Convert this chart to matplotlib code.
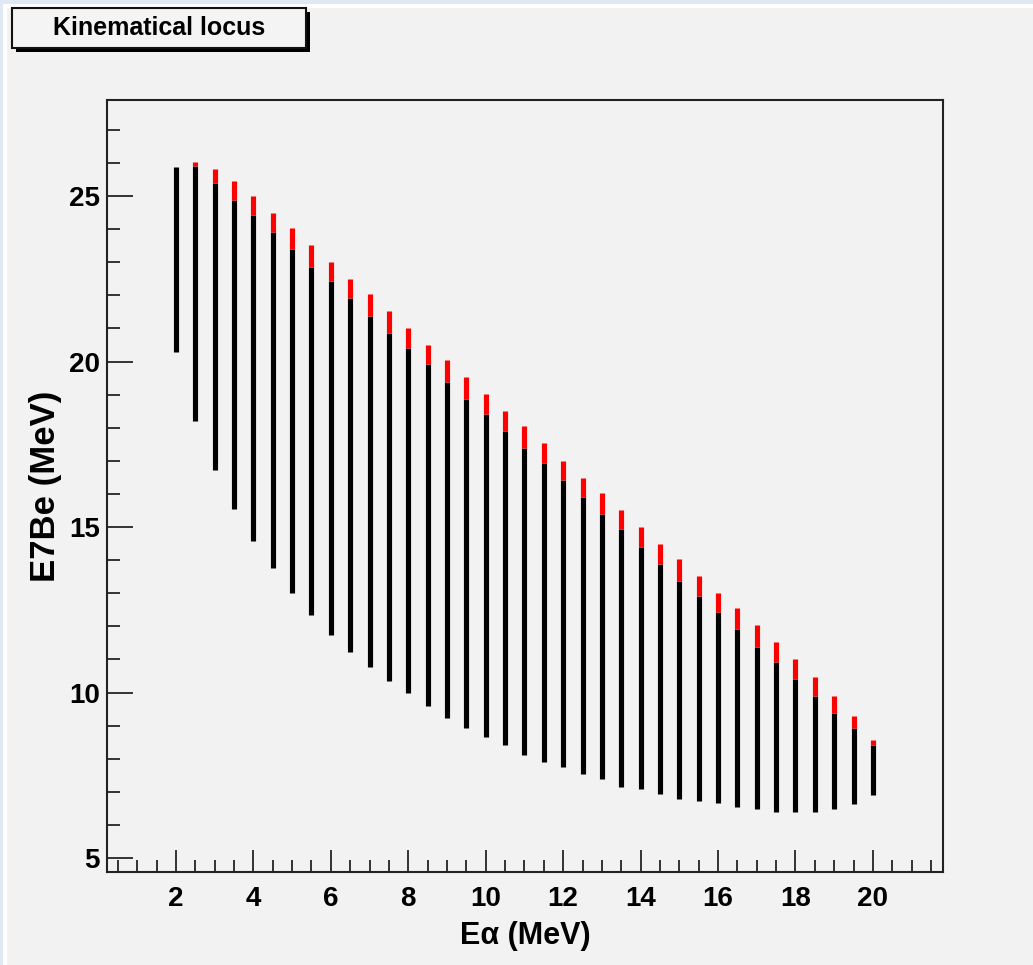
import matplotlib
matplotlib.use("Agg")
import matplotlib.pyplot as plt
from matplotlib.patches import Rectangle
from matplotlib.ticker import MultipleLocator

# Beam energy (MeV) for each simulated run
e_alpha = [2.0, 2.5, 3.0, 3.5, 4.0, 4.5, 5.0, 5.5, 6.0, 6.5, 7.0, 7.5, 8.0,
           8.5, 9.0, 9.5, 10.0, 10.5, 11.0, 11.5, 12.0, 12.5, 13.0, 13.5,
           14.0, 14.5, 15.0, 15.5, 16.0, 16.5, 17.0, 17.5, 18.0, 18.5, 19.0,
           19.5, 20.0]

# Upper end of the 7Be energy range at each beam energy
e7be_max = [25.88, 26.03, 25.83, 25.46, 25.01, 24.49, 24.03, 23.52, 23.00,
            22.50, 22.04, 21.53, 21.02, 20.50, 20.05, 19.53, 19.01, 18.50,
            18.04, 17.53, 17.00, 16.49, 16.04, 15.51, 15.00, 14.49, 14.04,
            13.52, 13.00, 12.56, 12.04, 11.52, 11.00, 10.48, 9.90, 9.30, 8.57]

# Start of the highlighted (forward-angle) part of each range
e7be_fwd = [25.88, 25.90, 25.39, 24.88, 24.43, 23.90, 23.40, 22.86, 22.43,
            21.92, 21.37, 20.86, 20.42, 19.92, 19.39, 18.87, 18.42, 17.90,
            17.40, 16.94, 16.42, 15.90, 15.38, 14.93, 14.40, 13.88, 13.38,
            12.92, 12.42, 11.91, 11.38, 10.93, 10.41, 9.89, 9.37, 8.92, 8.41]

# Lower end of the 7Be energy range
e7be_min = [20.29, 18.21, 16.72, 15.54, 14.57, 13.75, 13.02, 12.34, 11.75,
            11.23, 10.78, 10.35, 9.98, 9.60, 9.24, 8.94, 8.65, 8.41, 8.11,
            7.89, 7.75, 7.53, 7.38, 7.15, 7.08, 6.93, 6.78, 6.71, 6.65, 6.55,
            6.48, 6.40, 6.40, 6.40, 6.48, 6.63, 6.92]

title = "Kinematical locus"
xlabel = "E\u03b1 (MeV)"
ylabel = "E7Be (MeV)"

plt.rcParams["font.family"] = ["Liberation Sans", "DejaVu Sans"]
plt.rcParams["font.weight"] = "bold"

W, H = 1033, 965
bg = "#f2f2f2"
fig = plt.figure(figsize=(W / 100, H / 100), dpi=100, facecolor=bg)

# canvas frame strips
fig.patches.append(Rectangle((0, 1 - 8 / H), 1, 8 / H, transform=fig.transFigure,
                             facecolor="white", edgecolor="none", zorder=-2))
fig.patches.append(Rectangle((0, 0), 7 / W, 1, transform=fig.transFigure,
                             facecolor="white", edgecolor="none", zorder=-2))
fig.patches.append(Rectangle((0, 1 - 4 / H), 1, 4 / H, transform=fig.transFigure,
                             facecolor="#dfe8f4", edgecolor="none", zorder=-1))
fig.patches.append(Rectangle((0, 0), 3 / W, 1, transform=fig.transFigure,
                             facecolor="#dfe8f4", edgecolor="none", zorder=-1))

x0, x1, y0, y1 = 107, 943, 100, 872
ax = fig.add_axes([x0 / W, 1 - y1 / H, (x1 - x0) / W, (y1 - y0) / H])
ax.set_facecolor(bg)

lw_bar = 3.7
ax.vlines(e_alpha, e7be_min, e7be_fwd, colors="black", linewidth=lw_bar,
          capstyle="butt", zorder=3)
ax.vlines(e_alpha, e7be_fwd, e7be_max, colors="#ff0000", linewidth=lw_bar,
          capstyle="butt", zorder=3)

ax.set_xlim(0.22, 21.81)
ax.set_ylim(4.58, 27.9)

ax.xaxis.set_major_locator(MultipleLocator(2))
ax.xaxis.set_minor_locator(MultipleLocator(0.5))
ax.yaxis.set_major_locator(MultipleLocator(5))
ax.yaxis.set_minor_locator(MultipleLocator(1))

ax.tick_params(axis="x", which="major", direction="in", length=16, width=1.1,
               pad=10, labelsize=20, top=False)
ax.tick_params(axis="x", which="minor", direction="in", length=8.6, width=1.1,
               top=False)
ax.tick_params(axis="y", which="major", direction="in", length=18.5, width=1.1,
               pad=5, labelsize=20, right=False)
ax.tick_params(axis="y", which="minor", direction="in", length=9.4, width=1.1,
               right=False)
for lab in ax.get_xticklabels() + ax.get_yticklabels():
    lab.set_fontweight("bold")

for s in ax.spines.values():
    s.set_linewidth(1.5)
    s.set_color("#222222")

ax.set_xlabel(xlabel, fontsize=22, fontweight="bold")
ax.xaxis.set_label_coords(0.5, -0.064)
ax.set_ylabel(ylabel, fontsize=25, fontweight="bold")
ax.yaxis.set_label_coords(-0.054, 0.5)

# title box with drop shadow
bx0, by0, bx1, by1 = 12, 8, 306, 48
fig.patches.append(Rectangle(((bx0 + 4) / W, 1 - (by1 + 4) / H), (bx1 - bx0) / W,
                             (by1 - by0) / H, transform=fig.transFigure,
                             facecolor="black", edgecolor="none", zorder=5))
fig.patches.append(Rectangle((bx0 / W, 1 - by1 / H), (bx1 - bx0) / W,
                             (by1 - by0) / H, transform=fig.transFigure,
                             facecolor="#f4f4f4", edgecolor="#111111",
                             linewidth=1.5, zorder=6))
fig.text((bx0 + bx1) / 2 / W, 1 - 28 / H, title, ha="center", va="center",
         fontsize=18, fontweight="bold", zorder=7)

fig.savefig("out.png", dpi=100, facecolor=bg)
